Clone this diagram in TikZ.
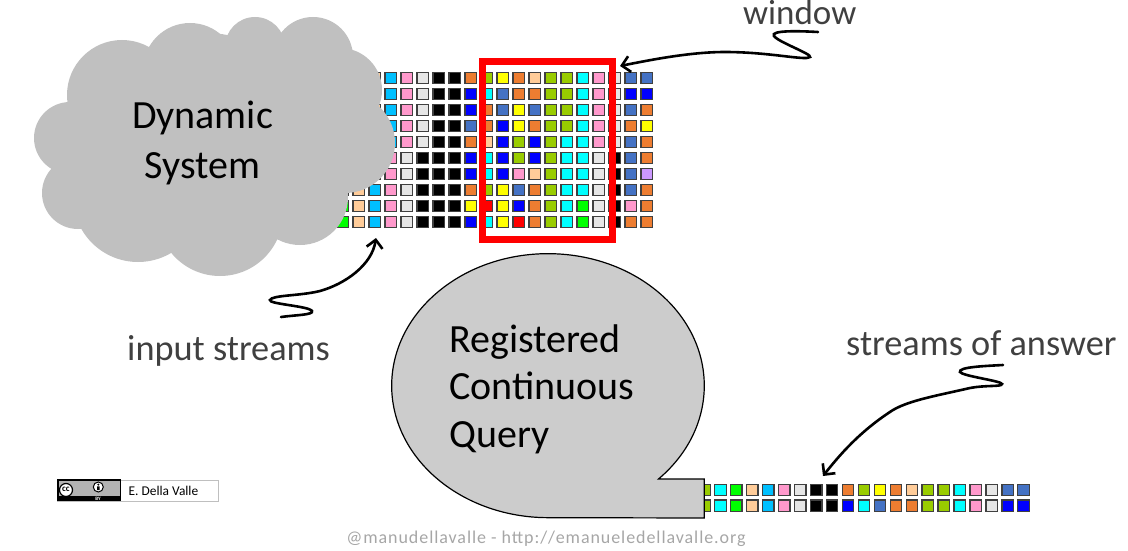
\documentclass[tikz,border=0pt]{standalone}
\usepackage{fontspec}
\setmainfont{Carlito}
\usetikzlibrary{arrows.meta}

\definecolor{sk}{HTML}{00C0FF}
\definecolor{pk}{HTML}{FF99CC}
\definecolor{gy}{HTML}{E6E6E6}
\definecolor{kk}{HTML}{000000}
\definecolor{or}{HTML}{ED7D31}
\definecolor{gn}{HTML}{99CC00}
\definecolor{ye}{HTML}{FFFF00}
\definecolor{pe}{HTML}{FFCC99}
\definecolor{cy}{HTML}{00FFFF}
\definecolor{bl}{HTML}{0000FF}
\definecolor{bb}{HTML}{4472C4}
\definecolor{rd}{HTML}{FF0000}
\definecolor{li}{HTML}{00FF00}
\definecolor{lc}{HTML}{CC99FF}
\definecolor{inkgray}{HTML}{404040}
\definecolor{cloudgray}{HTML}{C0C0C0}
\definecolor{bubblegray}{HTML}{CCCCCC}

\tikzset{
  cell/.style={draw=inkgray,line width=1.3pt,inner sep=0pt,outer sep=0pt,minimum size=11.4pt},
  dark/.style={font=\fontsize{40}{47.5}\selectfont,text=black,inner sep=0pt},
  note/.style={font=\fontsize{36.3}{36}\selectfont,text=inkgray,inner sep=0pt,anchor=base west},
  wiggle/.style={line width=2.6pt,line cap=round,-{Straight Barb[length=8pt,width=16pt]}},
}

\begin{document}
\begin{tikzpicture}[x=1pt,y=-1pt]
  \useasboundingbox (0,0) rectangle (1128,551);

  % stream matrix
  \foreach \row [count=\r] in {
    {li,pe,pe,sk,pk,gy,kk,kk,or,gn,ye,or,pe,gn,gn,cy,pk,gy,bb,bb},
    {li,pe,pe,sk,pk,gy,kk,kk,bl,cy,bb,or,or,gn,gn,cy,pk,gy,bl,bl},
    {li,pe,pe,sk,pk,gy,kk,kk,bl,or,bb,ye,bb,gn,gn,cy,pk,gy,bb,or},
    {li,pe,pe,sk,pk,gy,kk,kk,bb,or,bl,ye,or,gn,gn,cy,pk,gy,or,ye},
    {li,pe,pe,sk,pk,gy,kk,kk,or,pe,bl,gn,bl,gn,cy,cy,pk,gy,bb,or},
    {li,pe,sk,pk,gy,kk,kk,kk,bl,cy,bl,gn,bl,gn,cy,cy,gy,kk,bb,or},
    {li,pe,sk,pk,gy,kk,kk,kk,bl,cy,bl,pk,pe,gn,cy,cy,gy,kk,bb,lc},
    {li,pe,sk,pk,gy,kk,kk,kk,or,gn,ye,bb,or,gn,cy,cy,gy,kk,bb,or},
    {li,pe,sk,pk,gy,kk,kk,kk,ye,rd,ye,bl,or,gn,cy,li,gy,kk,pk,or},
    {li,pe,sk,pk,gy,kk,kk,kk,bl,cy,ye,rd,or,gn,cy,li,gy,kk,or,or}}
    \foreach \col [count=\c] in \row
      \node[cell,fill=\col] (in-\r-\c) at ({342.7+16*(\c-1)},{78+16*(\r-1)}) {};

  % window
  \draw[rd,line width=7pt] (482.5,62) rectangle (612.5,239);

  % cloud
  \fill[cloudgray]
    (207,133) circle (100) (293,117) circle (80)
    (122,95) circle (55) (190,70) circle (47) (255,47) circle (30)
    (313,57) circle (40) (340,90) circle (42) (345,143) circle (50)
    (300,197) circle (48) (220,213) circle (63) (138,197) circle (65)
    (78,193) circle (36) (70,138) circle (36);
  \node[dark,align=center] (dynsys) at (202.5,143) {Dynamic\\[2pt]System};

  % answer stream
  \foreach \row [count=\r] in {
    {gn,cy,li,pe,sk,pk,gy,kk,kk,or,gn,ye,or,pe,gn,gn,cy,pk,gy,bb,bb},
    {gn,cy,li,pe,sk,pk,gy,kk,kk,bl,cy,bb,or,or,gn,gn,cy,pk,gy,bl,bl}}
    \foreach \col [count=\c] in \row
      \node[cell,fill=\col] (out-\r-\c) at ({704.5+15.95*(\c-1)},{490+15.7*(\r-1)}) {};

  % query bubble
  \draw[fill=bubblegray,line width=1.2pt] (658.5,479)
    arc[start angle=-45,end angle=270,x radius=156.3pt,y radius=132pt]
    -- (704.3,518) -- (704.3,479) -- cycle;
  \node[dark,align=left] (query) at (542,389) {Registered\\Continuous\\Query};

  % labels
  \node[note,font=\fontsize{35}{36}\selectfont] (window) at (743,25) {window};
  \node[note] (input) at (127,360) {input streams};
  \node[note] (answer) at (846,355) {streams of answer};

  % wiggly arrows
  \coordinate (winfrom) at (818,32);
  \coordinate (winto) at (620,66);
  \coordinate (infrom) at (281,317);
  \coordinate (into) at (376,238);
  \coordinate (ansfrom) at (1003,365);
  \coordinate (ansto) at (823,476);
  \draw[wiggle] (winfrom) .. controls (800,31) and (770,30) .. (774,36)
    .. controls (778,42) and (812,54) .. (810,57)
    .. controls (806,61) and (770,52) .. (725,52)
    .. controls (690,52) and (650,60) .. (winto);
  \draw[wiggle] (infrom) .. controls (295,315) and (314,315) .. (312,311)
    .. controls (309,306) and (268,304) .. (270,300)
    .. controls (272,295) and (300,296) .. (320,291)
    .. controls (345,284) and (372,265) .. (into);
  \draw[wiggle] (ansfrom) .. controls (985,366) and (958,367) .. (960,372)
    .. controls (962,376) and (1002,381) .. (1002,384)
    .. controls (1002,387) and (985,385) .. (970,388)
    .. controls (940,395) and (910,400) .. (893,410)
    .. controls (865,428) and (845,448) .. (ansto);

  % licence badge
  \draw[draw=gray!50,fill=white,line width=0.8pt] (57.5,480) rectangle (218.3,501);
  \fill[black] (57.3,479.3) rectangle (121,501);
  \fill[gray!60] (59,481) rectangle (120,496);
  \draw[fill=white,line width=1.2pt] (66,490) circle (6.5);
  \node[inner sep=0pt,font=\fontsize{9}{9}\selectfont\bfseries] (cc) at (66,489.5) {cc};
  \draw[fill=white,line width=1pt] (98.3,487) circle (5);
  \fill (98.3,484.6) circle (1.1) (97,486.3) rectangle (99.6,490);
  \node[inner sep=0pt,text=white,font=\fontsize{5}{5}\selectfont\bfseries] (by) at (98,498.6) {BY};
  \node[inner sep=0pt,anchor=base west,font=\fontsize{13.4}{13.4}\selectfont] (author) at (128.5,495) {E. Della Valle};

  % footer
  \node[inner sep=0pt,anchor=base,text=gray!70,font=\fontsize{18}{18}\selectfont\addfontfeatures{LetterSpace=5.2}] (footer) at (546,543) {@manudellavalle - http://emanueledellavalle.org};
\end{tikzpicture}
\end{document}
